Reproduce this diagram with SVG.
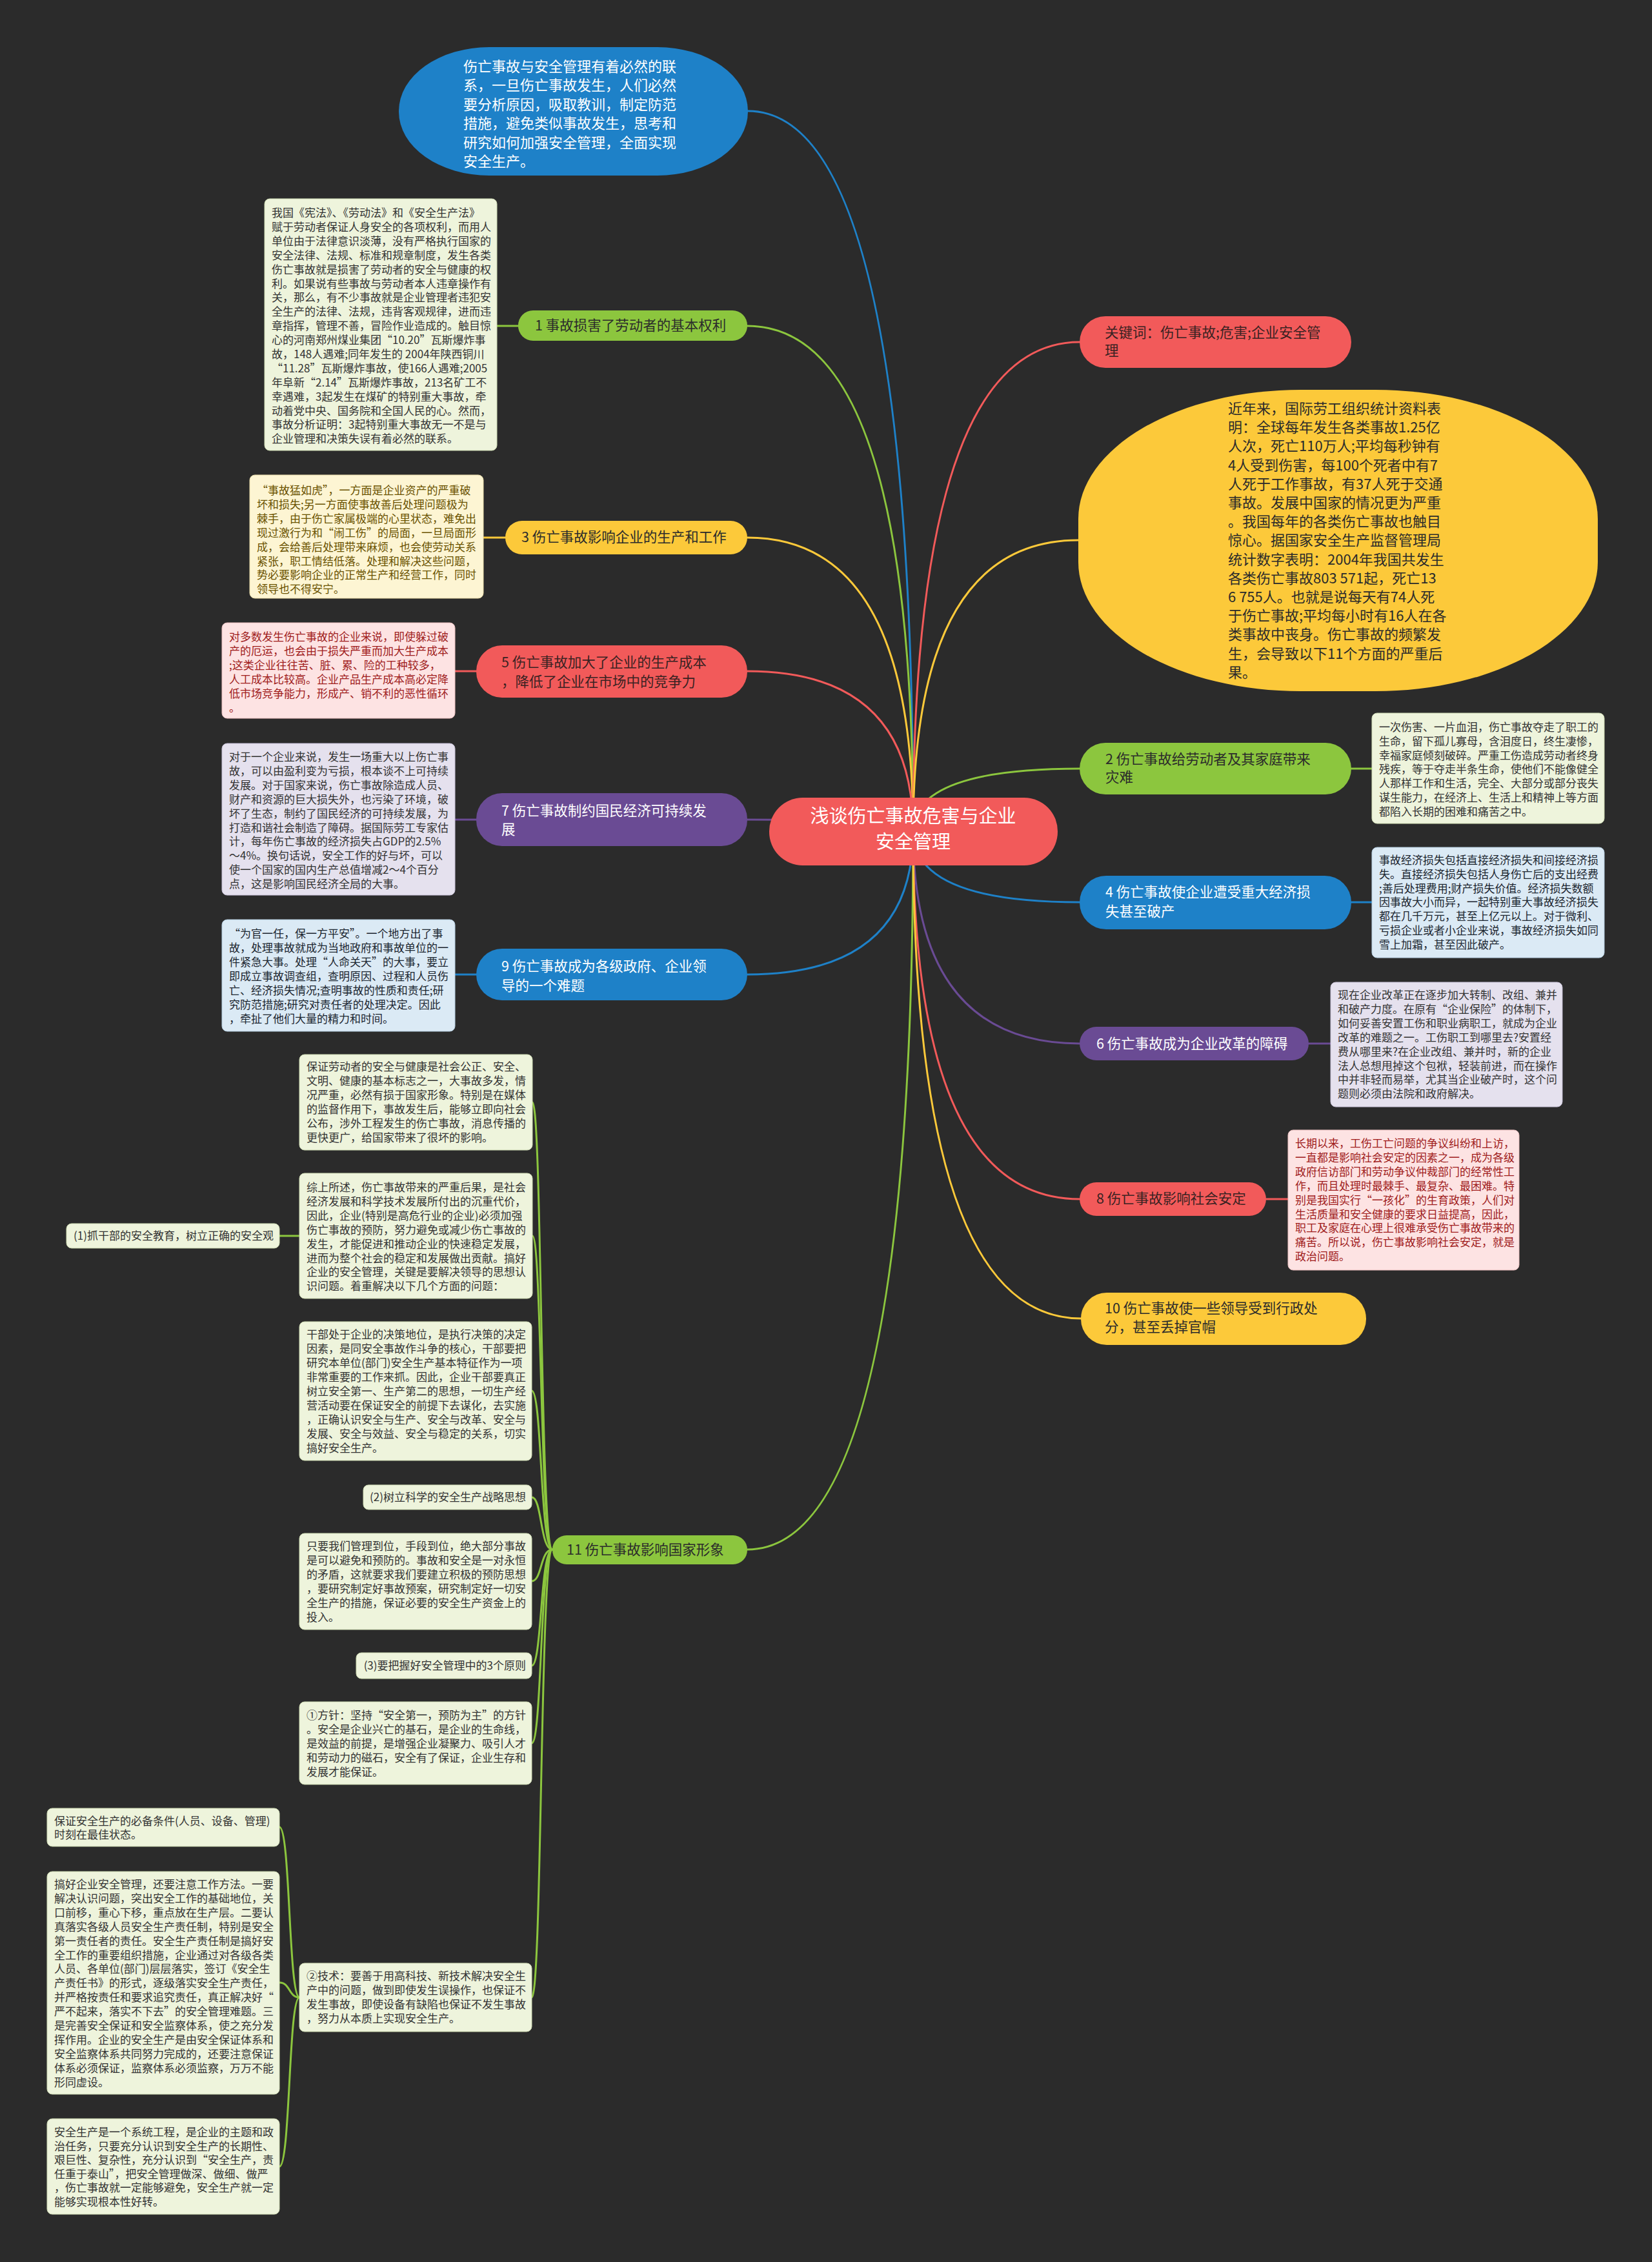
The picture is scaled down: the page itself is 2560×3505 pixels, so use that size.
<svg xmlns="http://www.w3.org/2000/svg" width="2560" height="3505" viewBox="0 0 2560 3505">
<style>
.t{font-family:"Noto Sans CJK SC","Noto Sans CJK JP","Noto Sans",sans-serif}
.d{font-size:17px}
.n{font-size:21.5px}
.b{font-size:22px}
.c{fill:none;stroke-width:3;stroke-linecap:round}
.gr{stroke:#8cc63e}.ye{stroke:#fcc93a}.re{stroke:#f25a5a}.pu{stroke:#6a4b94}.bl{stroke:#1e81c8}
.dg{fill:#eef4dc;stroke:#cfdcb4;stroke-width:1}
.dc{fill:#fdf5d3;stroke:#e6d9a6;stroke-width:1}
.dp{fill:#fde3e3;stroke:#ecc0c0;stroke-width:1}
.dl{fill:#e5e1ee;stroke:#c8c2d8;stroke-width:1}
.db{fill:#dbeaf5;stroke:#b6cfe2;stroke-width:1}
</style>
<rect x="0" y="0" width="2560" height="3505" fill="#2b2b2b"/>

<g id="connectors">
<path class="c bl" d="M1415,1288 Q1415,172 1159,172"/>
<path class="c gr" d="M1415,1288 Q1415,505 1158,505"/>
<path class="c ye" d="M1415,1288 Q1415,833 1158,833"/>
<path class="c re" d="M1415,1288 Q1415,1040 1158,1040"/>
<path class="c pu" d="M1415,1288 Q1415,1270 1158,1270"/>
<path class="c bl" d="M1415,1288 Q1415,1510 1158,1510"/>
<path class="c gr" d="M1415,1288 Q1415,2401 1158,2401"/>
<path class="c re" d="M1415,1288 Q1415,530 1673,530"/>
<path class="c ye" d="M1415,1288 Q1415,837 1671,837"/>
<path class="c gr" d="M1415,1288 Q1415,1191 1673,1191"/>
<path class="c bl" d="M1415,1288 Q1415,1398 1673,1398"/>
<path class="c pu" d="M1415,1288 Q1415,1617 1673,1617"/>
<path class="c re" d="M1415,1288 Q1415,1858 1673,1858"/>
<path class="c ye" d="M1415,1288 Q1415,2043 1675,2043"/>
<path class="c gr" d="M803,505 L770,505"/>
<path class="c ye" d="M783,833 L749,833"/>
<path class="c re" d="M738,1040 L705,1040"/>
<path class="c pu" d="M738,1270 L705,1270"/>
<path class="c bl" d="M738,1510 L705,1510"/>
<path class="c gr" d="M2094,1191 L2126,1191"/>
<path class="c bl" d="M2094,1398 L2126,1398"/>
<path class="c pu" d="M2028,1617 L2062,1617"/>
<path class="c re" d="M1962,1858 L1996,1858"/>
<path class="c gr" d="M856,2401 C837,2401 840,1708 825,1708"/>
<path class="c gr" d="M856,2401 C837,2401 840,1915 825,1915"/>
<path class="c gr" d="M856,2401 C837,2401 840,2155 824,2155"/>
<path class="c gr" d="M856,2401 C837,2401 840,2320 824,2320"/>
<path class="c gr" d="M856,2401 C837,2401 840,2450 824,2450"/>
<path class="c gr" d="M856,2401 C837,2401 840,2581 824,2581"/>
<path class="c gr" d="M856,2401 C837,2401 840,2701 824,2701"/>
<path class="c gr" d="M856,2401 C837,2401 840,3095 824,3095"/>
<path class="c gr" d="M464,1915 L433,1915"/>
<path class="c gr" d="M464,3095 C447,3095 450,2831 433,2831"/>
<path class="c gr" d="M464,3095 C447,3095 450,3072 433,3072"/>
<path class="c gr" d="M464,3095 C447,3095 450,3357 433,3357"/>
</g>

<g id="center">
<rect x="1192" y="1236" width="447" height="105" rx="52" fill="#f25a5a"/>
<text class="t" font-size="29" fill="#ffffff" text-anchor="middle"><tspan x="1415" y="1275">浅谈伤亡事故危害与企业</tspan><tspan x="1415" y="1315">安全管理</tspan></text>
</g>

<g id="intro">
<rect x="618" y="73" width="541" height="199" rx="140" ry="99" fill="#1e81c8"/>
<text class="t b" fill="#ffffff"><tspan x="718" y="111">伤亡事故与安全管理有着必然的联</tspan><tspan x="718" y="140.4">系，一旦伤亡事故发生，人们必然</tspan><tspan x="718" y="169.8">要分析原因，吸取教训，制定防范</tspan><tspan x="718" y="199.2">措施，避免类似事故发生，思考和</tspan><tspan x="718" y="228.6">研究如何加强安全管理，全面实现</tspan><tspan x="718" y="258">安全生产。</tspan></text>
</g>

<g id="keywords">
<rect x="1673" y="490" width="421" height="80" rx="40" fill="#f25a5a"/>
<text class="t n" fill="#3a2222"><tspan x="1712" y="523">关键词：伤亡事故;危害;企业安全管</tspan><tspan x="1712" y="551">理</tspan></text>
</g>

<g id="overview">
<rect x="1671" y="604" width="805" height="467" rx="345" ry="200" fill="#fcc93a"/>
<text class="t b" fill="#2b2b2b"><tspan x="1903" y="641">近年来，国际劳工组织统计资料表</tspan><tspan x="1903" y="670.2">明：全球每年发生各类事故1.25亿</tspan><tspan x="1903" y="699.4">人次，死亡110万人;平均每秒钟有</tspan><tspan x="1903" y="728.6">4人受到伤害，每100个死者中有7</tspan><tspan x="1903" y="757.8">人死于工作事故，有37人死于交通</tspan><tspan x="1903" y="787">事故。发展中国家的情况更为严重</tspan><tspan x="1903" y="816.2">。我国每年的各类伤亡事故也触目</tspan><tspan x="1903" y="845.4">惊心。据国家安全生产监督管理局</tspan><tspan x="1903" y="874.6">统计数字表明：2004年我国共发生</tspan><tspan x="1903" y="903.8">各类伤亡事故803 571起，死亡13</tspan><tspan x="1903" y="933">6 755人。也就是说每天有74人死</tspan><tspan x="1903" y="962.2">于伤亡事故;平均每小时有16人在各</tspan><tspan x="1903" y="991.4">类事故中丧身。伤亡事故的频繁发</tspan><tspan x="1903" y="1020.6">生，会导致以下11个方面的严重后</tspan><tspan x="1903" y="1049.8">果。</tspan></text>
</g>

<g id="n1">
<rect x="803" y="481" width="355" height="47" rx="23" fill="#8cc63e"/>
<text class="t n" fill="#2b2b2b" x="829" y="512">1 事故损害了劳动者的基本权利</text>
</g>
<g id="d1">
<rect class="dg" x="410" y="308" width="360" height="390" rx="8"/>
<text class="t d" fill="#333333"><tspan x="421" y="336">我国《宪法》、《劳动法》和《安全生产法》</tspan><tspan x="421" dy="21.9">赋于劳动者保证人身安全的各项权利，而用人</tspan><tspan x="421" dy="21.9">单位由于法律意识淡薄，没有严格执行国家的</tspan><tspan x="421" dy="21.9">安全法律、法规、标准和规章制度，发生各类</tspan><tspan x="421" dy="21.9">伤亡事故就是损害了劳动者的安全与健康的权</tspan><tspan x="421" dy="21.9">利。如果说有些事故与劳动者本人违章操作有</tspan><tspan x="421" dy="21.9">关，那么，有不少事故就是企业管理者违犯安</tspan><tspan x="421" dy="21.9">全生产的法律、法规，违背客观规律，进而违</tspan><tspan x="421" dy="21.9">章指挥，管理不善，冒险作业造成的。触目惊</tspan><tspan x="421" dy="21.9">心的河南郑州煤业集团“10.20”瓦斯爆炸事</tspan><tspan x="421" dy="21.9">故，148人遇难;同年发生的 2004年陕西铜川</tspan><tspan x="421" dy="21.9">“11.28”瓦斯爆炸事故，使166人遇难;2005</tspan><tspan x="421" dy="21.9">年阜新“2.14”瓦斯爆炸事故，213名矿工不</tspan><tspan x="421" dy="21.9">幸遇难，3起发生在煤矿的特别重大事故，牵</tspan><tspan x="421" dy="21.9">动着党中央、国务院和全国人民的心。然而，</tspan><tspan x="421" dy="21.9">事故分析证明：3起特别重大事故无一不是与</tspan><tspan x="421" dy="21.9">企业管理和决策失误有着必然的联系。</tspan></text>
</g>

<g id="n3">
<rect x="783" y="807" width="375" height="52" rx="26" fill="#fcc93a"/>
<text class="t n" fill="#2b2b2b" x="808" y="840">3 伤亡事故影响企业的生产和工作</text>
</g>
<g id="d3">
<rect class="dc" x="387" y="736" width="362" height="191" rx="8"/>
<text class="t d" fill="#6a5200"><tspan x="398" y="766">“事故猛如虎”，一方面是企业资产的严重破</tspan><tspan x="398" dy="21.9">坏和损失;另一方面使事故善后处理问题极为</tspan><tspan x="398" dy="21.9">棘手，由于伤亡家属极端的心里状态，难免出</tspan><tspan x="398" dy="21.9">现过激行为和“闹工伤”的局面，一旦局面形</tspan><tspan x="398" dy="21.9">成，会给善后处理带来麻烦，也会使劳动关系</tspan><tspan x="398" dy="21.9">紧张，职工情结低落。处理和解决这些问题，</tspan><tspan x="398" dy="21.9">势必要影响企业的正常生产和经营工作，同时</tspan><tspan x="398" dy="21.9">领导也不得安宁。</tspan></text>
</g>

<g id="n5">
<rect x="738" y="1000" width="420" height="81" rx="40" fill="#f25a5a"/>
<text class="t n" fill="#3a2222"><tspan x="777" y="1034">5 伤亡事故加大了企业的生产成本</tspan><tspan x="777" y="1064">，降低了企业在市场中的竞争力</tspan></text>
</g>
<g id="d5">
<rect class="dp" x="344" y="965" width="361" height="148" rx="8"/>
<text class="t d" fill="#a01c1c"><tspan x="355" y="993">对多数发生伤亡事故的企业来说，即使躲过破</tspan><tspan x="355" dy="22">产的厄运，也会由于损失严重而加大生产成本</tspan><tspan x="355" dy="22">;这类企业往往苦、脏、累、险的工种较多，</tspan><tspan x="355" dy="22">人工成本比较高。企业产品生产成本高必定降</tspan><tspan x="355" dy="22">低市场竞争能力，形成产、销不利的恶性循环</tspan><tspan x="355" dy="22">。</tspan></text>
</g>

<g id="n7">
<rect x="738" y="1229" width="420" height="82" rx="40" fill="#6a4b94"/>
<text class="t n" fill="#ffffff"><tspan x="777" y="1264">7 伤亡事故制约国民经济可持续发</tspan><tspan x="777" y="1293">展</tspan></text>
</g>
<g id="d7">
<rect class="dl" x="344" y="1152" width="361" height="235" rx="8"/>
<text class="t d" fill="#333333"><tspan x="355" y="1179">对于一个企业来说，发生一场重大以上伤亡事</tspan><tspan x="355" dy="21.9">故，可以由盈利变为亏损，根本谈不上可持续</tspan><tspan x="355" dy="21.9">发展。对于国家来说，伤亡事故除造成人员、</tspan><tspan x="355" dy="21.9">财产和资源的巨大损失外，也污染了环境，破</tspan><tspan x="355" dy="21.9">坏了生态，制约了国民经济的可持续发展，为</tspan><tspan x="355" dy="21.9">打造和谐社会制造了障碍。据国际劳工专家估</tspan><tspan x="355" dy="21.9">计，每年伤亡事故的经济损失占GDP的2.5%</tspan><tspan x="355" dy="21.9">～4%。换句话说，安全工作的好与坏，可以</tspan><tspan x="355" dy="21.9">使一个国家的国内生产总值增减2～4个百分</tspan><tspan x="355" dy="21.9">点，这是影响国民经济全局的大事。</tspan></text>
</g>

<g id="n9">
<rect x="738" y="1470" width="420" height="80" rx="40" fill="#1e81c8"/>
<text class="t n" fill="#ffffff"><tspan x="777" y="1505">9 伤亡事故成为各级政府、企业领</tspan><tspan x="777" y="1535">导的一个难题</tspan></text>
</g>
<g id="d9">
<rect class="db" x="344" y="1425" width="361" height="173" rx="8"/>
<text class="t d" fill="#1c2630"><tspan x="355" y="1453">“为官一任，保一方平安”。一个地方出了事</tspan><tspan x="355" dy="22">故，处理事故就成为当地政府和事故单位的一</tspan><tspan x="355" dy="22">件紧急大事。处理“人命关天”的大事，要立</tspan><tspan x="355" dy="22">即成立事故调查组，查明原因、过程和人员伤</tspan><tspan x="355" dy="22">亡、经济损失情况;查明事故的性质和责任;研</tspan><tspan x="355" dy="22">究防范措施;研究对责任者的处理决定。因此</tspan><tspan x="355" dy="22">，牵扯了他们大量的精力和时间。</tspan></text>
</g>

<g id="n2">
<rect x="1673" y="1151" width="421" height="80" rx="40" fill="#8cc63e"/>
<text class="t n" fill="#2b2b2b"><tspan x="1713" y="1184">2 伤亡事故给劳动者及其家庭带来</tspan><tspan x="1713" y="1212">灾难</tspan></text>
</g>
<g id="d2">
<rect class="dg" x="2126" y="1105" width="360" height="171" rx="8"/>
<text class="t d" fill="#333333"><tspan x="2137" y="1133">一次伤害、一片血泪，伤亡事故夺走了职工的</tspan><tspan x="2137" dy="21.8">生命，留下孤儿寡母，含泪度日，终生凄惨，</tspan><tspan x="2137" dy="21.8">幸福家庭倾刻破碎。严重工伤造成劳动者终身</tspan><tspan x="2137" dy="21.8">残疾，等于夺走半条生命，使他们不能像健全</tspan><tspan x="2137" dy="21.8">人那样工作和生活，完全、大部分或部分丧失</tspan><tspan x="2137" dy="21.8">谋生能力，在经济上、生活上和精神上等方面</tspan><tspan x="2137" dy="21.8">都陷入长期的困难和痛苦之中。</tspan></text>
</g>

<g id="n4">
<rect x="1673" y="1357" width="421" height="83" rx="41" fill="#1e81c8"/>
<text class="t n" fill="#ffffff"><tspan x="1713" y="1390">4 伤亡事故使企业遭受重大经济损</tspan><tspan x="1713" y="1420">失甚至破产</tspan></text>
</g>
<g id="d4">
<rect class="db" x="2126" y="1313" width="360" height="171" rx="8"/>
<text class="t d" fill="#1c2630"><tspan x="2137" y="1339">事故经济损失包括直接经济损失和间接经济损</tspan><tspan x="2137" dy="21.8">失。直接经济损失包括人身伤亡后的支出经费</tspan><tspan x="2137" dy="21.8">;善后处理费用;财产损失价值。经济损失数额</tspan><tspan x="2137" dy="21.8">因事故大小而异，一起特别重大事故经济损失</tspan><tspan x="2137" dy="21.8">都在几千万元，甚至上亿元以上。对于微利、</tspan><tspan x="2137" dy="21.8">亏损企业或者小企业来说，事故经济损失如同</tspan><tspan x="2137" dy="21.8">雪上加霜，甚至因此破产。</tspan></text>
</g>

<g id="n6">
<rect x="1673" y="1591" width="355" height="52" rx="26" fill="#6a4b94"/>
<text class="t n" fill="#ffffff" x="1699" y="1625">6 伤亡事故成为企业改革的障碍</text>
</g>
<g id="d6">
<rect class="dl" x="2062" y="1522" width="359" height="193" rx="8"/>
<text class="t d" fill="#333333"><tspan x="2073" y="1548">现在企业改革正在逐步加大转制、改组、兼并</tspan><tspan x="2073" dy="21.9">和破产力度。在原有“企业保险”的体制下，</tspan><tspan x="2073" dy="21.9">如何妥善安置工伤和职业病职工，就成为企业</tspan><tspan x="2073" dy="21.9">改革的难题之一。工伤职工到哪里去?安置经</tspan><tspan x="2073" dy="21.9">费从哪里来?在企业改组、兼并时，新的企业</tspan><tspan x="2073" dy="21.9">法人总想甩掉这个包袱，轻装前进，而在操作</tspan><tspan x="2073" dy="21.9">中并非轻而易举，尤其当企业破产时，这个问</tspan><tspan x="2073" dy="21.9">题则必须由法院和政府解决。</tspan></text>
</g>

<g id="n8">
<rect x="1673" y="1832" width="289" height="52" rx="26" fill="#f25a5a"/>
<text class="t n" fill="#3a2222" x="1699" y="1865">8 伤亡事故影响社会安定</text>
</g>
<g id="d8">
<rect class="dp" x="1996" y="1751" width="358" height="217" rx="8"/>
<text class="t d" fill="#a01c1c"><tspan x="2007" y="1778">长期以来，工伤工亡问题的争议纠纷和上访，</tspan><tspan x="2007" dy="21.9">一直都是影响社会安定的因素之一，成为各级</tspan><tspan x="2007" dy="21.9">政府信访部门和劳动争议仲裁部门的经常性工</tspan><tspan x="2007" dy="21.9">作，而且处理时最棘手、最复杂、最困难。特</tspan><tspan x="2007" dy="21.9">别是我国实行“一孩化”的生育政策，人们对</tspan><tspan x="2007" dy="21.9">生活质量和安全健康的要求日益提高，因此，</tspan><tspan x="2007" dy="21.9">职工及家庭在心理上很难承受伤亡事故带来的</tspan><tspan x="2007" dy="21.9">痛苦。所以说，伤亡事故影响社会安定，就是</tspan><tspan x="2007" dy="21.9">政治问题。</tspan></text>
</g>

<g id="n10">
<rect x="1675" y="2003" width="442" height="81" rx="40" fill="#fcc93a"/>
<text class="t n" fill="#2b2b2b"><tspan x="1712" y="2035">10 伤亡事故使一些领导受到行政处</tspan><tspan x="1712" y="2064">分，甚至丢掉官帽</tspan></text>
</g>

<g id="n11">
<rect x="856" y="2379" width="302" height="45" rx="22" fill="#8cc63e"/>
<text class="t n" fill="#2b2b2b" x="878" y="2409">11 伤亡事故影响国家形象</text>
</g>
<g id="c1">
<rect class="dg" x="464" y="1634" width="361" height="148" rx="8"/>
<text class="t d" fill="#333333"><tspan x="475" y="1659">保证劳动者的安全与健康是社会公正、安全、</tspan><tspan x="475" dy="22">文明、健康的基本标志之一，大事故多发，情</tspan><tspan x="475" dy="22">况严重，必然有损于国家形象。特别是在媒体</tspan><tspan x="475" dy="22">的监督作用下，事故发生后，能够立即向社会</tspan><tspan x="475" dy="22">公布，涉外工程发生的伤亡事故，消息传播的</tspan><tspan x="475" dy="22">更快更广，给国家带来了很坏的影响。</tspan></text>
</g>
<g id="c3">
<rect class="dg" x="464" y="1818" width="361" height="194" rx="8"/>
<text class="t d" fill="#333333"><tspan x="475" y="1846">综上所述，伤亡事故带来的严重后果，是社会</tspan><tspan x="475" dy="21.9">经济发展和科学技术发展所付出的沉重代价，</tspan><tspan x="475" dy="21.9">因此，企业(特别是高危行业的企业)必须加强</tspan><tspan x="475" dy="21.9">伤亡事故的预防，努力避免或减少伤亡事故的</tspan><tspan x="475" dy="21.9">发生，才能促进和推动企业的快速稳定发展，</tspan><tspan x="475" dy="21.9">进而为整个社会的稳定和发展做出贡献。搞好</tspan><tspan x="475" dy="21.9">企业的安全管理，关键是要解决领导的思想认</tspan><tspan x="475" dy="21.9">识问题。着重解决以下几个方面的问题：</tspan></text>
</g>
<g id="c3a">
<rect class="dg" x="103" y="1896" width="330" height="38" rx="8"/>
<text class="t d" fill="#333333" x="114" y="1921">(1)抓干部的安全教育，树立正确的安全观</text>
</g>
<g id="c4">
<rect class="dg" x="464" y="2048" width="360" height="215" rx="8"/>
<text class="t d" fill="#333333"><tspan x="475" y="2074">干部处于企业的决策地位，是执行决策的决定</tspan><tspan x="475" dy="22">因素，是同安全事故作斗争的核心，干部要把</tspan><tspan x="475" dy="22">研究本单位(部门)安全生产基本特征作为一项</tspan><tspan x="475" dy="22">非常重要的工作来抓。因此，企业干部要真正</tspan><tspan x="475" dy="22">树立安全第一、生产第二的思想，一切生产经</tspan><tspan x="475" dy="22">营活动要在保证安全的前提下去谋化，去实施</tspan><tspan x="475" dy="22">，正确认识安全与生产、安全与改革、安全与</tspan><tspan x="475" dy="22">发展、安全与效益、安全与稳定的关系，切实</tspan><tspan x="475" dy="22">搞好安全生产。</tspan></text>
</g>
<g id="c5">
<rect class="dg" x="563" y="2301" width="261" height="38" rx="8"/>
<text class="t d" fill="#333333" x="815" y="2326" text-anchor="end">(2)树立科学的安全生产战略思想</text>
</g>
<g id="c6">
<rect class="dg" x="464" y="2376" width="360" height="149" rx="8"/>
<text class="t d" fill="#333333"><tspan x="475" y="2402">只要我们管理到位，手段到位，绝大部分事故</tspan><tspan x="475" dy="22">是可以避免和预防的。事故和安全是一对永恒</tspan><tspan x="475" dy="22">的矛盾，这就要求我们要建立积极的预防思想</tspan><tspan x="475" dy="22">，要研究制定好事故预案，研究制定好一切安</tspan><tspan x="475" dy="22">全生产的措施，保证必要的安全生产资金上的</tspan><tspan x="475" dy="22">投入。</tspan></text>
</g>
<g id="c7">
<rect class="dg" x="552" y="2561" width="272" height="40" rx="8"/>
<text class="t d" fill="#333333" x="815" y="2587" text-anchor="end">(3)要把握好安全管理中的3个原则</text>
</g>
<g id="c8">
<rect class="dg" x="464" y="2637" width="360" height="128" rx="8"/>
<text class="t d" fill="#333333"><tspan x="475" y="2664">①方针：坚持“安全第一，预防为主”的方针</tspan><tspan x="475" dy="22">。安全是企业兴亡的基石，是企业的生命线，</tspan><tspan x="475" dy="22">是效益的前提，是增强企业凝聚力、吸引人才</tspan><tspan x="475" dy="22">和劳动力的磁石，安全有了保证，企业生存和</tspan><tspan x="475" dy="22">发展才能保证。</tspan></text>
</g>
<g id="c9">
<rect class="dg" x="464" y="3042" width="360" height="106" rx="8"/>
<text class="t d" fill="#333333"><tspan x="475" y="3068">②技术：要善于用高科技、新技术解决安全生</tspan><tspan x="475" dy="22">产中的问题，做到即使发生误操作，也保证不</tspan><tspan x="475" dy="22">发生事故，即使设备有缺陷也保证不发生事故</tspan><tspan x="475" dy="22">，努力从本质上实现安全生产。</tspan></text>
</g>
<g id="g1">
<rect class="dg" x="73" y="2802" width="360" height="59" rx="8"/>
<text class="t d" fill="#333333"><tspan x="84" y="2828">保证安全生产的必备条件(人员、设备、管理)</tspan><tspan x="84" dy="21">时刻在最佳状态。</tspan></text>
</g>
<g id="g2">
<rect class="dg" x="73" y="2900" width="360" height="345" rx="8"/>
<text class="t d" fill="#333333"><tspan x="84" y="2926">搞好企业安全管理，还要注意工作方法。一要</tspan><tspan x="84" dy="21.9">解决认识问题，突出安全工作的基础地位，关</tspan><tspan x="84" dy="21.9">口前移，重心下移，重点放在生产层。二要认</tspan><tspan x="84" dy="21.9">真落实各级人员安全生产责任制，特别是安全</tspan><tspan x="84" dy="21.9">第一责任者的责任。安全生产责任制是搞好安</tspan><tspan x="84" dy="21.9">全工作的重要组织措施，企业通过对各级各类</tspan><tspan x="84" dy="21.9">人员、各单位(部门)层层落实，签订《安全生</tspan><tspan x="84" dy="21.9">产责任书》的形式，逐级落实安全生产责任，</tspan><tspan x="84" dy="21.9">并严格按责任和要求追究责任，真正解决好“</tspan><tspan x="84" dy="21.9">严不起来，落实不下去”的安全管理难题。三</tspan><tspan x="84" dy="21.9">是完善安全保证和安全监察体系，使之充分发</tspan><tspan x="84" dy="21.9">挥作用。企业的安全生产是由安全保证体系和</tspan><tspan x="84" dy="21.9">安全监察体系共同努力完成的，还要注意保证</tspan><tspan x="84" dy="21.9">体系必须保证，监察体系必须监察，万万不能</tspan><tspan x="84" dy="21.9">形同虚设。</tspan></text>
</g>
<g id="g3">
<rect class="dg" x="73" y="3283" width="360" height="148" rx="8"/>
<text class="t d" fill="#333333"><tspan x="84" y="3310">安全生产是一个系统工程，是企业的主题和政</tspan><tspan x="84" dy="21.6">治任务，只要充分认识到安全生产的长期性、</tspan><tspan x="84" dy="21.6">艰巨性、复杂性，充分认识到“安全生产，责</tspan><tspan x="84" dy="21.6">任重于泰山”，把安全管理做深、做细、做严</tspan><tspan x="84" dy="21.6">，伤亡事故就一定能够避免，安全生产就一定</tspan><tspan x="84" dy="21.6">能够实现根本性好转。</tspan></text>
</g>
</svg>
